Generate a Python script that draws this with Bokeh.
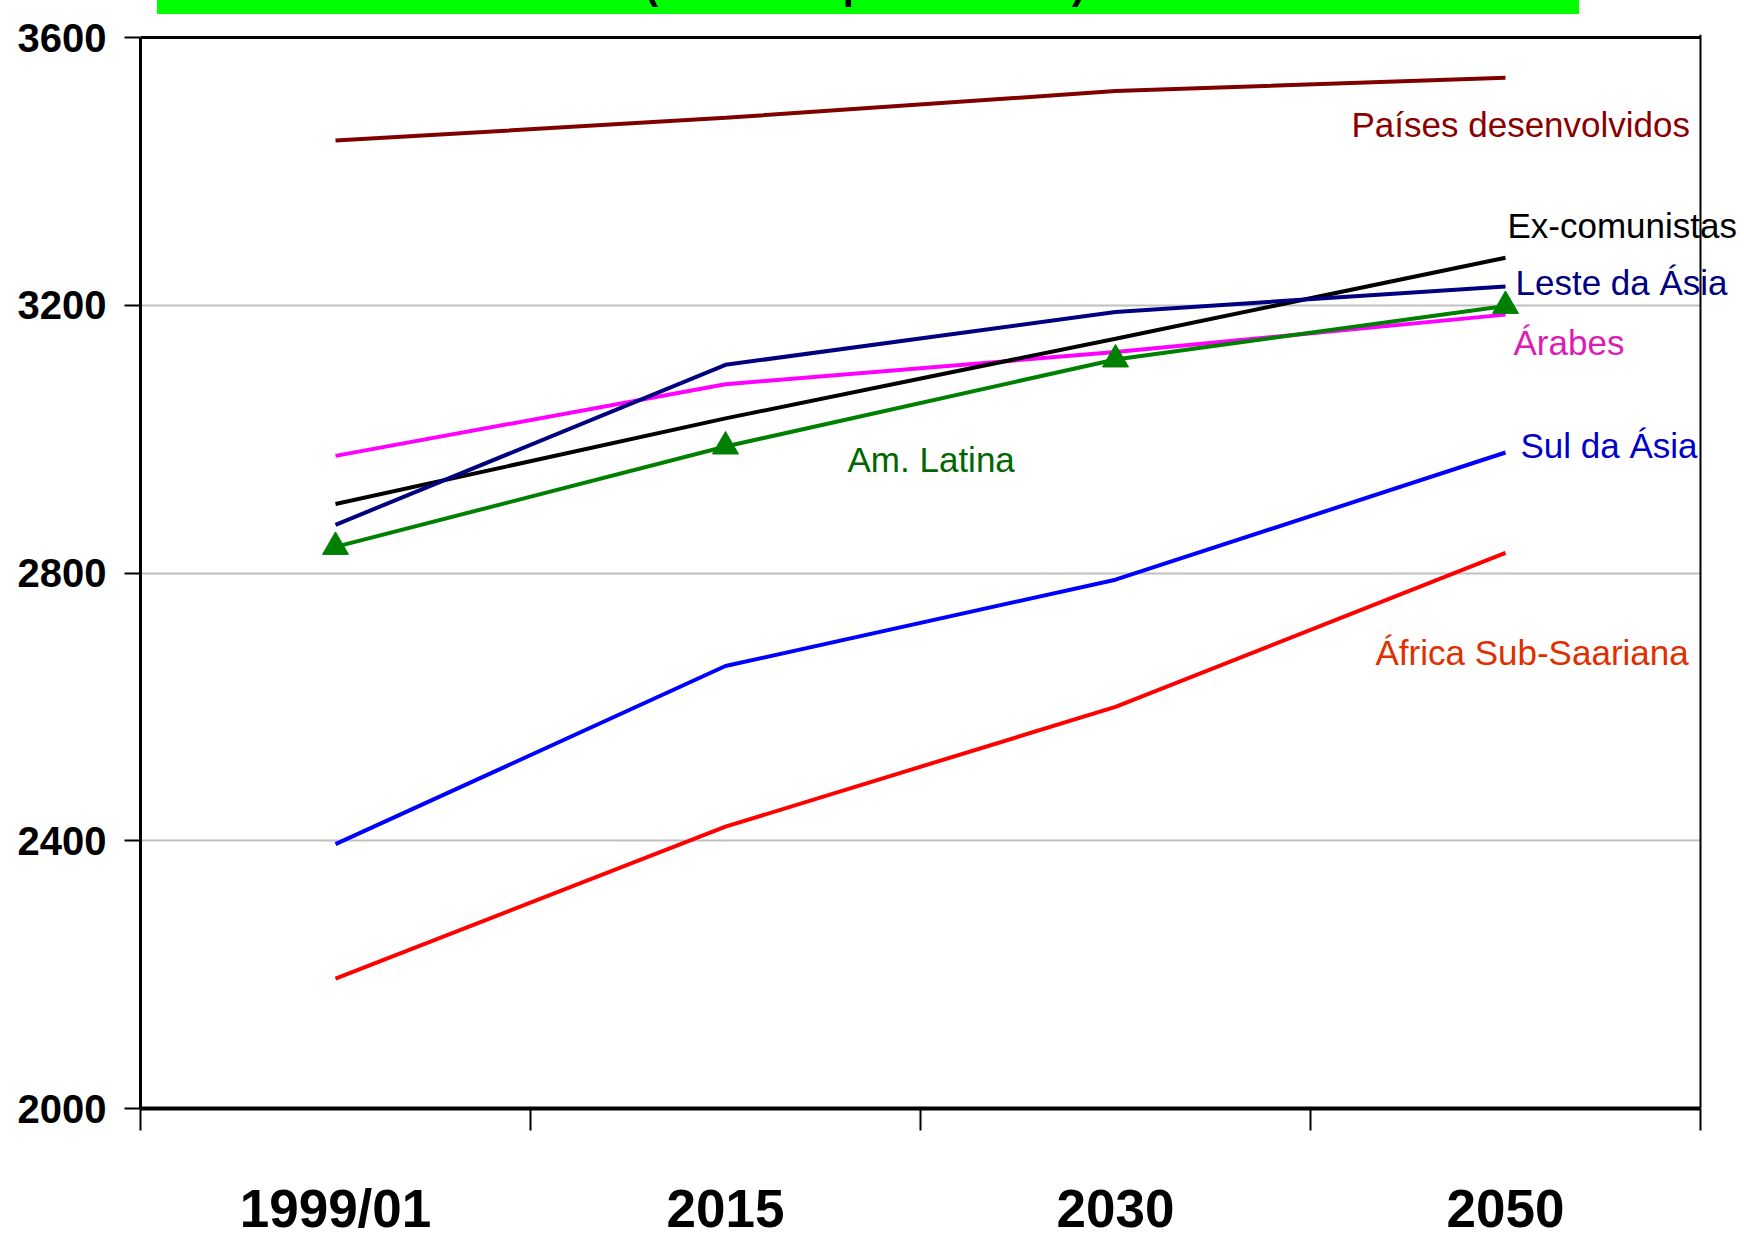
from bokeh.plotting import figure
from bokeh.models import Range1d, FixedTicker, Label, Div, Span, BoxAnnotation
from bokeh.layouts import column
from bokeh.embed import file_html
from bokeh.resources import INLINE

# ---------------- data ----------------
categories = ["1999/01", "2015", "2030", "2050"]
paises_desenvolvidos = [3446, 3480, 3520, 3540]
ex_comunistas = [2903, 3031, 3150, 3271]
leste_da_asia = [2872, 3111, 3190, 3228]
arabes = [2975, 3082, 3130, 3186]
am_latina = [2839, 2989, 3119, 3199]
sul_da_asia = [2395, 2661, 2790, 2980]
africa_sub_saariana = [2194, 2421, 2600, 2830]
y_ticks = [2000, 2400, 2800, 3200, 3600]
title_text = "(calorias / pessoa / dia)"

xs = list(range(len(categories)))
bounds = [i - 0.5 for i in range(len(categories) + 1)]

# ---------------- layout (pixels) ----------------
FONT = "Liberation Sans"
PAGE_W = 1744
BAR_H = 14
FIG_H = 1228
PLOT_LEFT = 140
PLOT_W = 1560           # visible plot area width
EXTRA_RIGHT = 44        # frame continues to the canvas edge so labels can overhang
PLOT_H = 1071
TOP_PAD = 3
BORDER_TOP = 20

x_per_px = (bounds[-1] - bounds[0]) / PLOT_W
y_per_px = (y_ticks[-1] - y_ticks[0]) / PLOT_H

p = figure(width=PAGE_W, height=FIG_H,
           x_range=Range1d(bounds[0], bounds[-1] + EXTRA_RIGHT * x_per_px),
           y_range=Range1d(y_ticks[0], y_ticks[-1] + TOP_PAD * y_per_px),
           output_backend="svg", toolbar_location=None,
           min_border_left=PLOT_LEFT, min_border_right=0,
           min_border_top=BORDER_TOP,
           min_border_bottom=FIG_H - BORDER_TOP - PLOT_H - TOP_PAD)
p.background_fill_color = "white"
p.border_fill_color = "white"
p.outline_line_color = None
p.xgrid.grid_line_color = None
p.ygrid.grid_line_color = "#c0c0c0"
p.ygrid.grid_line_width = 2

xa = p.xaxis[0]
xa.ticker = FixedTicker(ticks=xs, minor_ticks=bounds)
xa.bounds = (bounds[0], bounds[-1])
xa.major_label_overrides = {i: c for i, c in zip(xs, categories)}
xa.axis_line_width = 4
xa.axis_line_color = "black"
xa.major_tick_line_color = None
xa.major_tick_out = 0
xa.major_tick_in = 0
xa.minor_tick_line_color = "black"
xa.minor_tick_line_width = 2
xa.minor_tick_out = 22
xa.minor_tick_in = 0
xa.major_label_standoff = 48
xa.major_label_text_font = FONT
xa.major_label_text_font_style = "bold"
xa.major_label_text_font_size = "53px"
xa.major_label_text_color = "black"

ya = p.yaxis[0]
ya.ticker = FixedTicker(ticks=y_ticks)
ya.bounds = (y_ticks[0], y_ticks[-1])
ya.axis_line_width = 3
ya.axis_line_color = "black"
ya.major_tick_out = 16
ya.major_tick_in = 0
ya.major_tick_line_width = 2
ya.major_tick_line_color = "black"
ya.minor_tick_line_color = None
ya.major_label_standoff = 18
ya.major_label_text_font = FONT
ya.major_label_text_font_style = "bold"
ya.major_label_text_font_size = "40px"
ya.major_label_text_color = "black"

series = [
    (paises_desenvolvidos, "#800000"),
    (sul_da_asia, "#0000ff"),
    (africa_sub_saariana, "#ff0000"),
    (arabes, "#ff00ff"),
    (ex_comunistas, "#000000"),
    (leste_da_asia, "#000080"),
    (am_latina, "#008000"),
]
for vals, col in series:
    p.line(xs, vals, line_width=4, line_color=col)
p.scatter(xs, am_latina, marker="triangle", size=26,
          fill_color="#008000", line_color="#008000")

# top border of the plot area, then white mask for the strip right of it
p.add_layout(Span(location=y_ticks[-1], dimension="width",
                  line_color="black", line_width=3))
p.add_layout(BoxAnnotation(left=bounds[-1], fill_color="white", fill_alpha=1.0,
                           line_color=None))

labels = [
    ("Países desenvolvidos", paises_desenvolvidos, 3, -154, -47, "#8b0000"),
    ("Ex-comunistas", ex_comunistas, 3, 2, 32, "#000000"),
    ("Leste da Ásia", leste_da_asia, 3, 10, 4, "#000080"),
    ("Árabes", arabes, 3, 8, -28, "#dd1cb4"),
    ("Am. Latina", am_latina, 1, 122, -13, "#006600"),
    ("Sul da Ásia", sul_da_asia, 3, 15, 7, "#0000cc"),
    ("África Sub-Saariana", africa_sub_saariana, 3, -130, -100, "#e03000"),
]
for text, vals, idx, dx, dy, col in labels:
    p.add_layout(Label(x=xs[idx], y=vals[idx], x_offset=dx, y_offset=dy,
                       text=text, text_font=FONT, text_font_size="35px",
                       text_color=col, text_baseline="middle", text_align="left"))

# right border of the plot area
p.add_layout(Span(location=bounds[-1], dimension="height",
                  line_color="black", line_width=2))

bar_html = (
    '<div style="position:relative;margin-left:157px;width:1422px;height:%dpx;'
    'background:#00ff00;overflow:hidden;">'
    '<span style="position:absolute;left:488px;top:-35px;font-family:\'Liberation Sans\';'
    'font-weight:bold;font-size:40px;line-height:40px;color:#000;white-space:nowrap;">'
    '%s</span></div>' % (BAR_H, title_text)
)
bar = Div(text=bar_html, width=PAGE_W, height=BAR_H, margin=0)

layout = column(bar, p, spacing=0)
open("out.html", "w").write(file_html(layout, INLINE))
